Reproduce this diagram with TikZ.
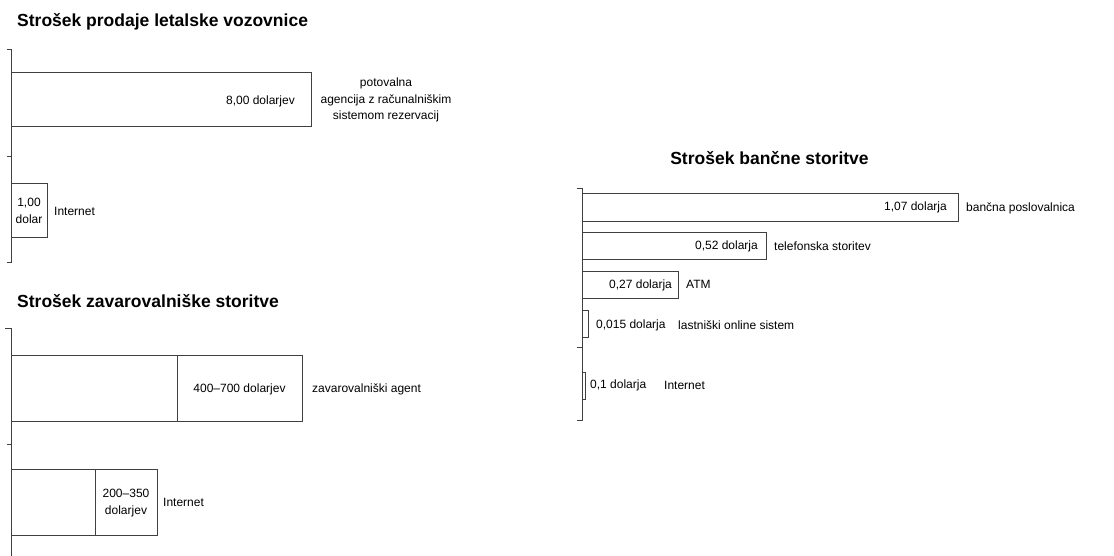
\documentclass[tikz,border=0pt]{standalone}
\usepackage{fontspec}
\setmainfont{Liberation Sans}
\begin{document}
\begin{tikzpicture}[x=1pt,y=-1pt,
  bar/.style={draw=black!75, line width=0.7pt},
  ax/.style={draw=black!75, line width=0.7pt},
  title/.style={font=\bfseries\fontsize{17.5}{20}\selectfont, anchor=mid west, inner sep=0pt},
  lbl/.style={font=\fontsize{12}{16.5}\selectfont, inner sep=0pt, align=center}]
\useasboundingbox (0,0) rectangle (1114,556);

% ---------- Chart 1: letalska vozovnica ----------
\node[title] (t1) at (17,24) {Strošek prodaje letalske vozovnice};
\draw[ax] (7,49) -- (11,49) -- (11,262) -- (7,262);
\draw[ax] (7,156) -- (11,156);
\draw[bar] (11,72) rectangle (311,126);
\node[lbl, anchor=mid east] (v11) at (295,102) {8,00 dolarjev};
\node[lbl] (c11) at (386,100) {potovalna\\agencija z računalniškim\\sistemom rezervacij};
\draw[bar] (11,183) rectangle (47,237);
\node[lbl] (v12) at (29,211) {1,00\\dolar};
\node[lbl, anchor=mid west] (c12) at (54,213) {Internet};

% ---------- Chart 2: zavarovalniška storitev ----------
\node[title] (t2) at (17,305) {Strošek zavarovalniške storitve};
\draw[ax] (5,328) -- (11,328) -- (11,556);
\draw[ax] (7,444) -- (11,444);
\draw[bar] (11,355) rectangle (302,421);
\draw[bar] (177,355) -- (177,421);
\node[lbl] (v21) at (239.5,389) {400–700 dolarjev};
\node[lbl, anchor=mid west] (c21) at (312,390) {zavarovalniški agent};
\draw[bar] (11,469) rectangle (157,535);
\draw[bar] (95,469) -- (95,535);
\node[lbl] (v22) at (126,503) {200–350\\dolarjev};
\node[lbl, anchor=mid west] (c22) at (163,504) {Internet};

% ---------- Chart 3: bančna storitev ----------
\node[title, anchor=mid] (t3) at (769.5,162) {Strošek bančne storitve};
\draw[ax] (577,188) -- (582,188) -- (582,420) -- (577,420);
\draw[ax] (577,347) -- (582,347);
\draw[bar] (582,193) rectangle (958,221);
\node[lbl, anchor=mid east] (v31) at (947,208) {1,07 dolarja};
\node[lbl, anchor=mid west] (c31) at (966,209) {bančna poslovalnica};
\draw[bar] (582,232) rectangle (766,259);
\node[lbl, anchor=mid east] (v32) at (758,247) {0,52 dolarja};
\node[lbl, anchor=mid west] (c32) at (774,248) {telefonska storitev};
\draw[bar] (582,271) rectangle (678,298);
\node[lbl, anchor=mid west] (v33) at (609,286) {0,27 dolarja};
\node[lbl, anchor=mid west] (c33) at (686,286) {ATM};
\draw[bar] (582,310) rectangle (588,337);
\node[lbl, anchor=mid west] (v34) at (596,326) {0,015 dolarja};
\node[lbl, anchor=mid west] (c34) at (678,327) {lastniški online sistem};
\draw[bar] (582,372) rectangle (585,399);
\node[lbl, anchor=mid west] (v35) at (590,386) {0,1 dolarja};
\node[lbl, anchor=mid west] (c35) at (664,387) {Internet};
\end{tikzpicture}
\end{document}
